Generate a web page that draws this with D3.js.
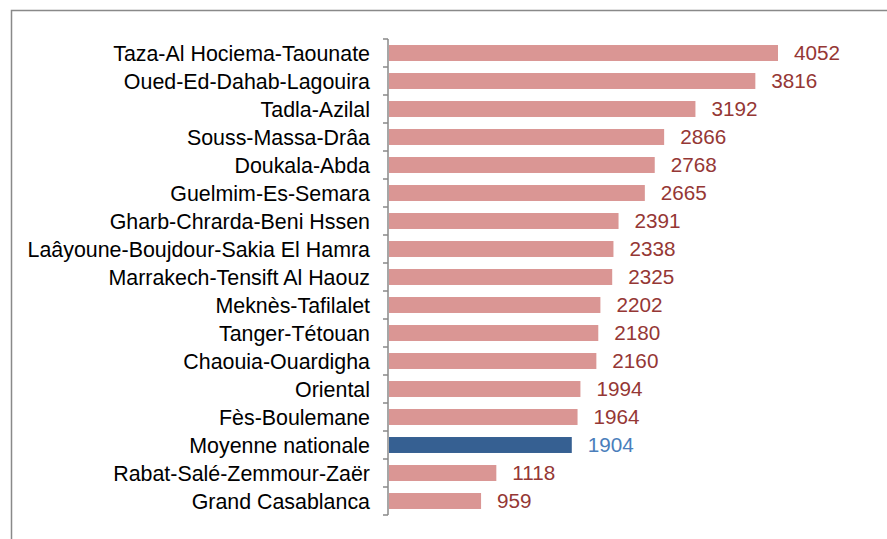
<!DOCTYPE html>
<html>
<head>
<meta charset="utf-8">
<script src="https://cdn.jsdelivr.net/npm/d3@7"></script>
<style>
  body { margin: 0; background: #fff; }
  svg { display: block; }
</style>
</head>
<body>
<div id="chart"></div>
<script>
// Regions and their values
const regions = [
  "Taza-Al Hociema-Taounate",
  "Oued-Ed-Dahab-Lagouira",
  "Tadla-Azilal",
  "Souss-Massa-Drâa",
  "Doukala-Abda",
  "Guelmim-Es-Semara",
  "Gharb-Chrarda-Beni Hssen",
  "Laâyoune-Boujdour-Sakia El Hamra",
  "Marrakech-Tensift Al Haouz",
  "Meknès-Tafilalet",
  "Tanger-Tétouan",
  "Chaouia-Ouardigha",
  "Oriental",
  "Fès-Boulemane",
  "Moyenne nationale",
  "Rabat-Salé-Zemmour-Zaër",
  "Grand Casablanca"
];
const values = [4052, 3816, 3192, 2866, 2768, 2665, 2391, 2338, 2325, 2202, 2180, 2160, 1994, 1964, 1904, 1118, 959];
const highlight = "Moyenne nationale";

const width = 887;
const height = 539;

const svg = d3.select("#chart")
  .append("svg")
  .attr("width", width)
  .attr("height", height);

// outer frame (runs off the right and bottom edges)
svg.append("rect")
  .attr("x", 11.5)
  .attr("y", 10.5)
  .attr("width", 900)
  .attr("height", 560)
  .attr("fill", "none")
  .attr("stroke", "#898989")
  .attr("stroke-width", 1.5);

const data = regions.map((r, i) => ({ region: r, value: values[i] }));

const x = d3.scaleLinear()
  .domain([0, 4052])
  .range([389, 778]);

const y = d3.scaleBand()
  .domain(regions)
  .range([39, 515])
  .paddingInner(0.43)
  .paddingOuter(0.215);

// bars
svg.append("g")
  .selectAll("rect")
  .data(data)
  .join("rect")
  .attr("x", x(0))
  .attr("y", d => y(d.region))
  .attr("width", d => x(d.value) - x(0))
  .attr("height", y.bandwidth())
  .attr("fill", d => d.region === highlight ? "#366092" : "#DA9694");

// value labels
svg.append("g")
  .selectAll("text")
  .data(data)
  .join("text")
  .attr("x", d => x(d.value) + 16)
  .attr("y", d => y(d.region) + y.bandwidth() / 2)
  .attr("dy", "0.36em")
  .attr("font-family", "Arial, 'Liberation Sans', sans-serif")
  .attr("font-size", "20.7px")
  .attr("fill", d => d.region === highlight ? "#4A7EBB" : "#953735")
  .text(d => d.value);

// category axis with ticks between bands
const axis = svg.append("g");
const step = y.step();
axis.append("line")
  .attr("x1", 388).attr("x2", 388)
  .attr("y1", 39).attr("y2", 515)
  .attr("stroke", "#898989")
  .attr("stroke-width", 1.5);

const tickYs = d3.range(regions.length + 1).map(i => 39 + i * step);
axis.selectAll("line.tick")
  .data(tickYs)
  .join("line")
  .attr("class", "tick")
  .attr("x1", 383).attr("x2", 388)
  .attr("y1", d => d).attr("y2", d => d)
  .attr("stroke", "#898989")
  .attr("stroke-width", 1.5);

axis.selectAll("text")
  .data(regions)
  .join("text")
  .attr("x", 370)
  .attr("y", d => y(d) + y.bandwidth() / 2)
  .attr("dy", "0.36em")
  .attr("text-anchor", "end")
  .attr("font-family", "Arial, 'Liberation Sans', sans-serif")
  .attr("font-size", "21.4px")
  .attr("fill", "#000")
  .text(d => d);
</script>
</body>
</html>
